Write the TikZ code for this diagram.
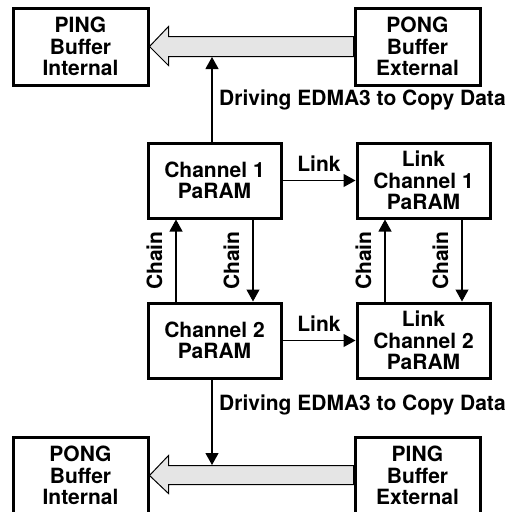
\documentclass[tikz,border=0pt]{standalone}
\usepackage{fontspec}
\setmainfont{TeX Gyre Heros}
\usetikzlibrary{arrows.meta,calc}
\begin{document}
\begin{tikzpicture}[x=1pt,y=-1pt,
  buf/.style={draw,line width=3pt,minimum height=77,align=center,
    font=\fontsize{21}{21.5}\bfseries\selectfont},
  param/.style={buf,minimum width=133,minimum height=75},
  conn/.style={line width=1.1pt,-{Triangle[length=12pt,width=13pt]}},
  lbl/.style={font=\fontsize{21}{21.5}\bfseries\selectfont,inner sep=2pt},
  fat/.style={draw,line width=1pt,fill=black!10,line join=miter}]
\useasboundingbox (0,0) rectangle (512,512);
% buffers
\node[buf,minimum width=135] (pingint) at (80.5,46.5) {PING\\Buffer\\Internal};
\node[buf,minimum width=125] (pongext) at (417.5,46.5) {PONG\\Buffer\\External};
\node[buf,minimum width=135] (pongint) at (80.5,475.5) {PONG\\Buffer\\Internal};
\node[buf,minimum width=125] (pingext) at (417.5,475.5) {PING\\Buffer\\External};
% PaRAM sets
\node[param] (ch1) at (214.5,180.5) {Channel 1\\PaRAM};
\node[param] (lch1) at (423.5,180.5) {Link\\Channel 1\\PaRAM};
\node[param] (ch2) at (214.5,340.5) {Channel 2\\PaRAM};
\node[param] (lch2) at (423.5,340.5) {Link\\Channel 2\\PaRAM};
%
\draw[fat] ($(pongext.west)+(0,-10)$) -- ($(pingint.east)+(19,-10)$)
  -- ($(pingint.east)+(19,-20)$) -- (pingint.east) -- ($(pingint.east)+(19,19)$)
  -- ($(pingint.east)+(19,10)$) -- ($(pongext.west)+(0,10)$) -- cycle;
\draw[fat] ($(pingext.west)+(0,-10)$) -- ($(pongint.east)+(19,-10)$)
  -- ($(pongint.east)+(19,-20)$) -- (pongint.east) -- ($(pongint.east)+(19,18)$)
  -- ($(pongint.east)+(19,9)$) -- ($(pingext.west)+(0,9)$) -- cycle;
%
\coordinate (up) at (212,57);
\coordinate (down) at (212,465);
\draw[conn] (ch1.north -| up) -- (up);
\draw[conn] (ch2.south -| down) -- (down);
\node[lbl,anchor=west] (drv1) at (217,100) {Driving EDMA3 to Copy Data};
\node[lbl,anchor=west] (drv2) at (217,405) {Driving EDMA3 to Copy Data};
%
\draw[conn] (ch1) -- (lch1) node[lbl,midway,above=6pt] {Link};
\draw[conn] (ch2) -- (lch2) node[lbl,midway,above=6pt] {Link};
\draw[conn] ([xshift=-38.5]ch2.north) -- ([xshift=-38.5]ch1.south)
  node[lbl,midway,rotate=90,above=11pt] {Chain};
\draw[conn] ([xshift=38.5]ch1.south) -- ([xshift=38.5]ch2.north)
  node[lbl,midway,rotate=90,above=11pt] {Chain};
\draw[conn] ([xshift=-38.5]lch2.north) -- ([xshift=-38.5]lch1.south)
  node[lbl,midway,rotate=90,above=11pt] {Chain};
\draw[conn] ([xshift=38.5]lch1.south) -- ([xshift=38.5]lch2.north)
  node[lbl,midway,rotate=90,above=11pt] {Chain};
\end{tikzpicture}
\end{document}
